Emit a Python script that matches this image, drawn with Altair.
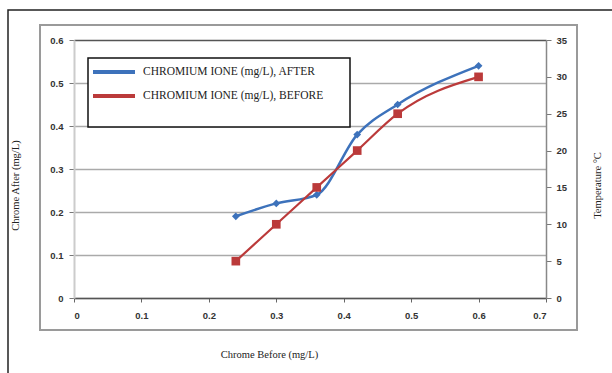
import altair as alt
import pandas as pd

# Data
chrome_before = [0.24, 0.30, 0.36, 0.42, 0.48, 0.60]
chrome_after = [0.19, 0.22, 0.24, 0.38, 0.45, 0.54]
temperature = [5, 10, 15, 20, 25, 30]
series_names = ["CHROMIUM IONE (mg/L), AFTER", "CHROMIUM IONE (mg/L), BEFORE"]
legend_rows = [0, 1]
x_ticks = [0, 0.1, 0.2, 0.3, 0.4, 0.5, 0.6, 0.7]
left_ticks = [0, 0.1, 0.2, 0.3, 0.4, 0.5, 0.6]
right_ticks = [0, 5, 10, 15, 20, 25, 30, 35]

BLUE = "#3d72bb"
RED = "#bb3a3a"
SERIF = "Liberation Serif"
TICKFONT = "Liberation Sans"

df = pd.DataFrame({
    "before": chrome_before,
    "after": chrome_after,
    "temp": temperature,
    "s_after": [series_names[0]] * len(chrome_before),
    "s_before": [series_names[1]] * len(chrome_before),
})
legend_df = pd.DataFrame({"name": series_names, "row": legend_rows})

color_scale = alt.Scale(domain=series_names, range=[BLUE, RED])

x_enc = alt.X(
    "before:Q",
    scale=alt.Scale(domain=[0, 0.7], nice=False),
    axis=alt.Axis(
        values=x_ticks, format=".1~f", title="Chrome Before (mg/L)",
        grid=False, domainColor="#555555", domainWidth=1.5,
        tickColor="#666666", tickSize=4, labelPadding=8,
        labelFont=TICKFONT, labelFontWeight="bold", labelFontSize=9.5, labelColor="#333333",
        titleFont=SERIF, titleFontWeight="normal", titleFontSize=10.5, titleColor="#222222",
        titleX=195, titleY=56, titleBaseline="middle",
    ),
)

y_left = alt.Y(
    "after:Q",
    scale=alt.Scale(domain=[0, 0.6], nice=False),
    axis=alt.Axis(
        orient="left", values=left_ticks, format=".1~f", title="Chrome After (mg/L)",
        labelOverlap=False,
        grid=True, gridColor={"condition": {"test": "datum.value >= 0.59", "value": "#555555"}, "value": "#aaaaaa"},
        gridWidth=1.5, domainColor="#cccccc", domainWidth=2,
        tickColor="#777777", tickSize=5, labelPadding=6,
        labelFont=TICKFONT, labelFontWeight="bold", labelFontSize=9.5, labelColor="#333333",
        titleFont=SERIF, titleFontWeight="normal", titleFontSize=10.5, titleColor="#222222",
        titleX=-59, titleY=145, titleAngle=270, titleBaseline="middle",
    ),
)

y_right = alt.Y(
    "temp:Q",
    scale=alt.Scale(domain=[0, 35], nice=False),
    axis=alt.Axis(
        orient="right", values=right_ticks, format="d", title="Temperature °C",
        labelOverlap=False,
        grid=False, domainColor="#888888", domainWidth=1.5,
        tickColor="#777777", tickSize=5, labelPadding=5,
        labelFont=TICKFONT, labelFontWeight="bold", labelFontSize=9.5, labelColor="#333333",
        titleFont=SERIF, titleFontWeight="normal", titleFontSize=10.5, titleColor="#222222",
        titleX=51, titleY=145, titleAngle=270, titleBaseline="middle",
    ),
)

after_line = alt.Chart(df).mark_line(strokeWidth=2.5, interpolate="monotone").encode(
    x=x_enc, y=y_left,
    color=alt.Color("s_after:N", scale=color_scale, legend=None),
)
after_pts = alt.Chart(df).mark_point(shape="diamond", filled=True, size=60, color=BLUE, opacity=1).encode(
    x=x_enc, y=y_left
)

before_line = alt.Chart(df).mark_line(strokeWidth=2.2, interpolate="monotone").encode(
    x=x_enc, y=y_right,
    color=alt.Color("s_before:N", scale=color_scale, legend=None),
)
before_pts = alt.Chart(df).mark_point(shape="square", filled=True, size=75, color=RED, opacity=1).encode(
    x=x_enc, y=y_right
)

frame_df = pd.DataFrame({"k": [0]})
outer_frame = alt.Chart(frame_df).mark_rect(fill=None, stroke="#222222", strokeWidth=1.5).encode(
    x=alt.value(-66), x2=alt.value(700), y=alt.value(-30), y2=alt.value(500)
)
inner_frame = alt.Chart(frame_df).mark_rect(fill=None, stroke="#9a9a9a", strokeWidth=2).encode(
    x=alt.value(-34), x2=alt.value(503), y=alt.value(-15), y2=alt.value(290)
)

# Legend (box + line swatches + labels)
legend_box = alt.Chart(frame_df).mark_rect(fill="white", stroke="#111111", strokeWidth=1.5).encode(
    x=alt.value(14), x2=alt.value(276), y=alt.value(18), y2=alt.value(87)
)
legend_y = alt.Y("row:Q", scale=alt.Scale(domain=[0, 1], range=[32, 56]), axis=None)
legend_swatch = alt.Chart(legend_df).mark_rule(strokeWidth=4).encode(
    x=alt.value(19), x2=alt.value(61), y=legend_y,
    color=alt.Color("name:N", scale=color_scale, legend=None),
)
legend_text = alt.Chart(legend_df).mark_text(
    align="left", baseline="middle", font=SERIF, fontSize=11.5, color="#222222"
).encode(
    x=alt.value(69), y=legend_y, text="name:N"
)
legend_layer = alt.layer(legend_swatch, legend_text)

chart = alt.layer(
    outer_frame,
    inner_frame,
    alt.layer(after_line, after_pts),
    alt.layer(before_line, before_pts),
    legend_box,
    legend_layer,
).resolve_scale(y="independent").properties(
    width=472, height=258,
    autosize=alt.AutoSizeParams(type="none"),
    padding={"left": 74, "top": 40, "right": 66, "bottom": 75},
    background="white",
).configure_view(stroke=None)

chart.save("out.html", embed_options={"renderer": "svg", "actions": False})
